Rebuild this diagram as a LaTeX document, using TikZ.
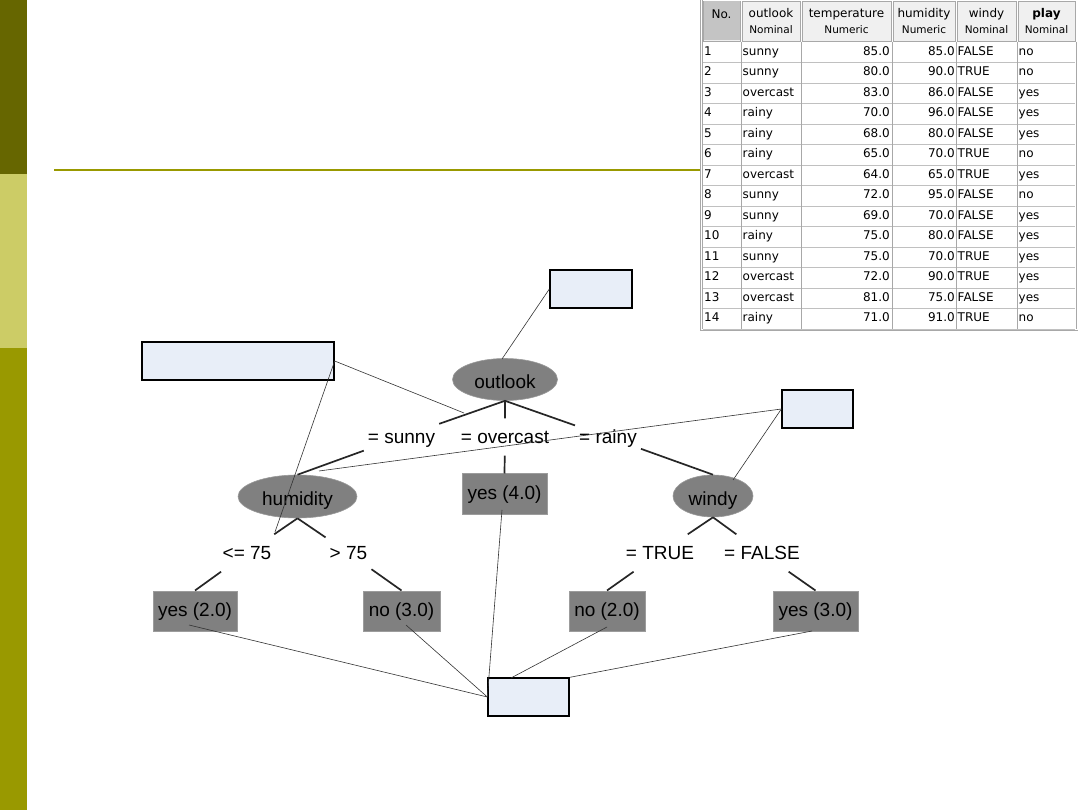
\documentclass[tikz,border=0pt]{standalone}
\usepackage{fontspec}
\setmainfont{Liberation Sans}
\newfontfamily\tabfont{DejaVu Sans}
\usetikzlibrary{shapes.geometric}
\definecolor{oliveA}{HTML}{666600}
\definecolor{oliveB}{HTML}{CCCC66}
\definecolor{oliveC}{HTML}{999900}
\definecolor{nodegray}{HTML}{808080}
\definecolor{leafedge}{HTML}{9C9C9C}
\definecolor{calloutfill}{HTML}{E8EEF8}
\definecolor{hdrfill}{HTML}{F0F0F0}
\definecolor{hdrsel}{HTML}{C4C4C4}
\definecolor{gridline}{HTML}{A8A8A8}
\definecolor{rowline}{HTML}{C0C0C0}
\begin{document}
\begin{tikzpicture}[x=1pt,y=-1pt,
  tf/.style={font=\fontsize{19}{23}\selectfont},
  split/.style={ellipse, fill=nodegray, draw=nodegray!80!white, line width=0.6pt, minimum height=42pt, inner sep=0pt, text height=22pt, text depth=4pt, tf},
  leaf/.style={rectangle, fill=nodegray, draw=leafedge, line width=1pt, minimum height=40pt, inner sep=0pt, text height=14pt, text depth=4pt, tf},
  elabel/.style={rectangle, inner xsep=4pt, inner ysep=0pt, minimum height=37pt, text height=16pt, text depth=4pt, tf},
  edge/.style={draw=black!85, line width=1.7pt},
  callout/.style={rectangle, fill=calloutfill, draw=black, line width=1.3pt, inner sep=0pt, minimum height=38pt},
  pointer/.style={draw=black!80, line width=0.6pt},
  cell/.style={inner sep=0pt, font=\tabfont\fontsize{12}{14}\selectfont, text height=9pt, text depth=2.5pt},
  subcell/.style={inner sep=0pt, font=\tabfont\fontsize{10.5}{12}\selectfont, text height=7.5pt, text depth=2pt},
  hdrbox/.style={fill=hdrfill, draw=gridline, line width=0.8pt},
]
\useasboundingbox (0,0) rectangle (1080,810);
\fill[white] (0,0) rectangle (1080,810);
% side bar
\fill[oliveA] (0,0) rectangle (27,174);
\fill[oliveB] (0,174) rectangle (27,348);
\fill[oliveC] (0,348) rectangle (27,810);
% title rule
\draw[oliveC, line width=2pt] (54,170) -- (702,170);

% ---------- data table ----------
\fill[white] (700,0) rectangle (1078,331);
\draw[hdrbox] (703,1) rectangle (740,41);
\fill[hdrsel] (703.5,1.5) rectangle (739.5,40.5);
\draw[hdrbox] (742,1) rectangle (800,41);
\draw[hdrbox] (802,1) rectangle (891,41);
\draw[hdrbox] (893,1) rectangle (955,41);
\draw[hdrbox] (957,1) rectangle (1016,41);
\draw[hdrbox] (1018,1) rectangle (1075,41);
\foreach \k in {1,...,14} {
  \draw[rowline, line width=0.8pt] (703,42+20.5*\k) -- (1075,42+20.5*\k);
}
\foreach \xx in {741,801,892,956,1017,1076} {
  \draw[gridline, line width=0.8pt] (\xx,42) -- (\xx,329);
}
\draw[gridline, line width=0.8pt] (700.5,0) -- (700.5,331);
\draw[gridline, line width=0.8pt] (702.5,0) -- (702.5,329);
\draw[gridline, line width=0.8pt] (700,330.5) -- (1078,330.5);

\node[cell] (hno) at (721.5,15) {No.};
\node[cell] (hout) at (771,14) {outlook};
\node[subcell] (sout) at (771,31) {Nominal};
\node[cell] (htemp) at (846.5,14) {temperature};
\node[subcell] (stemp) at (846.5,31) {Numeric};
\node[cell] (hhum) at (924,14) {humidity};
\node[subcell] (shum) at (924,31) {Numeric};
\node[cell] (hwin) at (986.5,14) {windy};
\node[subcell] (swin) at (986.5,31) {Nominal};
\node[cell, font=\tabfont\bfseries\fontsize{12}{14}\selectfont] (hplay) at (1046.5,14) {play};
\node[subcell] (splay) at (1046.5,31) {Nominal};

\foreach \i/\o/\t/\h/\w/\p in {
  1/sunny/85.0/85.0/FALSE/no,
  2/sunny/80.0/90.0/TRUE/no,
  3/overcast/83.0/86.0/FALSE/yes,
  4/rainy/70.0/96.0/FALSE/yes,
  5/rainy/68.0/80.0/FALSE/yes,
  6/rainy/65.0/70.0/TRUE/no,
  7/overcast/64.0/65.0/TRUE/yes,
  8/sunny/72.0/95.0/FALSE/no,
  9/sunny/69.0/70.0/FALSE/yes,
  10/rainy/75.0/80.0/FALSE/yes,
  11/sunny/75.0/70.0/TRUE/yes,
  12/overcast/72.0/90.0/TRUE/yes,
  13/overcast/81.0/75.0/FALSE/yes,
  14/rainy/71.0/91.0/TRUE/no} {
  \pgfmathsetmacro\yy{31.75+20.5*\i}
  \node[cell, anchor=west] (rn\i) at (704,\yy) {\i};
  \node[cell, anchor=west] (ro\i) at (742.5,\yy) {\o};
  \node[cell, anchor=east] (rt\i) at (890,\yy) {\t};
  \node[cell, anchor=east] (rh\i) at (955,\yy) {\h};
  \node[cell, anchor=west] (rw\i) at (957.5,\yy) {\w};
  \node[cell, anchor=west] (rp\i) at (1018.5,\yy) {\p};
}

% ---------- decision tree ----------
\node[split, minimum width=105pt] (outlook) at (505,379.5) {outlook};
\node[split, minimum width=119pt, minimum height=43pt] (humidity) at (297.5,496.5) {humidity};
\node[split, minimum width=80pt] (windy) at (713,496) {windy};
\node[leaf, minimum width=85pt] (yes4) at (504.5,494) {yes (4.0)};
\node[leaf, minimum width=84pt] (yes2) at (195,611) {yes (2.0)};
\node[leaf, minimum width=77pt] (no3) at (401.5,611) {no (3.0)};
\node[leaf, minimum width=76pt] (no2) at (607,611) {no (2.0)};
\node[leaf, minimum width=85pt] (yes3) at (815.5,611) {yes (3.0)};

\node[elabel] (lsunny) at (401.5,437) {= sunny};
\node[elabel] (lover) at (505,437) {= overcast};
\node[elabel] (lrainy) at (608,437) {= rainy};
\node[elabel] (lle) at (247,553) {<= 75};
\node[elabel] (lgt) at (348.5,553) {> 75};
\node[elabel] (ltrue) at (660,553) {= TRUE};
\node[elabel] (lfalse) at (762,553) {= FALSE};

\draw[edge] (outlook.south) -- (lsunny) -- (humidity.north);
\draw[edge] (outlook.south) -- (lover) -- (yes4.north);
\draw[edge] (outlook.south) -- (lrainy) -- (windy.north);
\draw[edge] (humidity.south) -- (lle) -- (yes2.north);
\draw[edge] (humidity.south) -- (lgt) -- (no3.north);
\draw[edge] (windy.south) -- (ltrue) -- (no2.north);
\draw[edge] (windy.south) -- (lfalse) -- (yes3.north);

% ---------- callouts ----------
\node[callout, minimum width=82pt] (tc) at (591,289) {};
\node[callout, minimum width=192pt] (lc) at (238,361) {};
\node[callout, minimum width=71pt] (rc) at (817.5,409) {};
\node[callout, minimum width=81pt] (bc) at (528.5,697) {};

\coordinate (pOut) at (502,359);
\coordinate (pSunny) at (464,413);
\coordinate (pLe) at (275,532);
\coordinate (pHum) at (319,471);
\coordinate (pWindy) at (733,480);
\coordinate (pY2) at (189,625);
\coordinate (pN3) at (406,625);
\coordinate (pY4) at (502,510);
\coordinate (pN2) at (607,627);
\coordinate (pY3) at (812,631);
\coordinate (pBn) at (511,678);

\draw[pointer] (tc.west) -- (pOut);
\draw[pointer] (lc.east) -- (pSunny);
\draw[pointer] (lc.east) -- (pLe);
\draw[pointer] (rc.west) -- (pHum);
\draw[pointer] (rc.west) -- (pWindy);
\draw[pointer] (pY2) -- (bc.west);
\draw[pointer] (pN3) -- (bc.west);
\draw[pointer] (pY4) -- (bc.west);
\draw[pointer] (pN2) -- (pBn);
\draw[pointer] (pY3) -- (bc.north east);
\end{tikzpicture}
\end{document}
